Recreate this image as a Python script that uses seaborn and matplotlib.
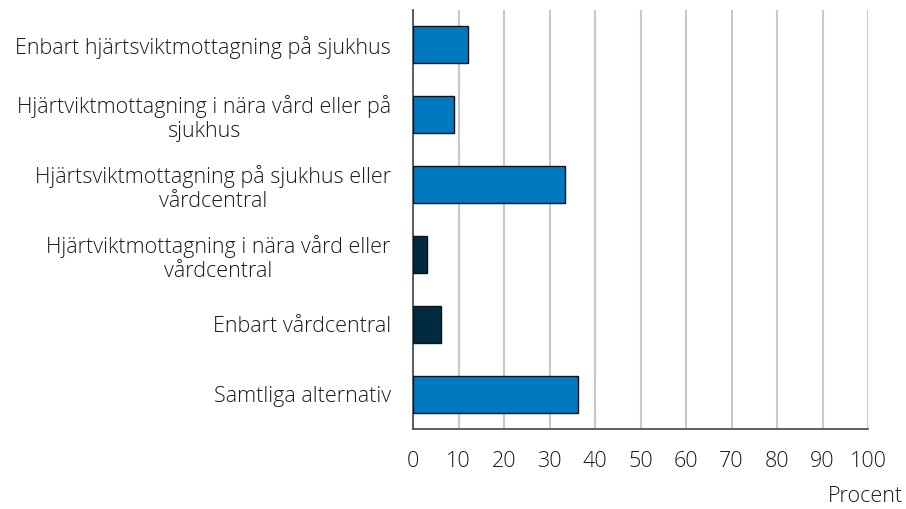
import pandas as pd
import matplotlib
matplotlib.use("Agg")
import matplotlib.pyplot as plt
import seaborn as sns

# Data
kategorier = [
    "Enbart hjärtsviktmottagning på sjukhus",
    "Hjärtviktmottagning i nära vård eller på\nsjukhus",
    "Hjärtsviktmottagning på sjukhus eller\nvårdcentral",
    "Hjärtviktmottagning i nära vård eller\nvårdcentral",
    "Enbart vårdcentral",
    "Samtliga alternativ",
]
procent = [12.1, 9.1, 33.3, 3.1, 6.1, 36.3]
farger = ["#0079C1", "#0079C1", "#0079C1", "#002A42", "#002A42", "#0079C1"]

df = pd.DataFrame({"kategori": kategorier, "procent": procent})

sns.set_style("white")
plt.rcParams["font.family"] = ["Open Sans", "DejaVu Sans"]
plt.rcParams["font.weight"] = "light"

fig = plt.figure(figsize=(9.06, 5.09), dpi=100)
ax = fig.add_axes([413 / 906, 1 - 429 / 509, 455 / 906, 419 / 509])

sns.barplot(data=df, x="procent", y="kategori", hue="kategori",
            palette=dict(zip(kategorier, farger)), legend=False, saturation=1,
            width=0.53, edgecolor="#111111", linewidth=1.0, ax=ax, zorder=3)

ax.set_xlim(0, 100)
ax.set_ylim(5.5, -0.5)
ax.set_xticks(range(0, 101, 10))
ax.xaxis.grid(True, color="#C8C8C8", linewidth=1.5, zorder=0)
ax.set_axisbelow(True)

# y ticks at the category boundaries, labels centered in each band
ax.set_yticks([i + 0.5 for i in range(-1, 6)], minor=False)
ax.set_yticklabels([])
ax.set_yticks(range(6), minor=True)
ax.set_yticklabels(kategorier, minor=True, fontsize=15.5, color="#1a1a1a")
for lbl in ax.get_yticklabels(minor=True):
    lbl.set_multialignment("center")
ax.tick_params(axis="y", which="minor", length=0, pad=16)
ax.tick_params(axis="y", which="major", length=5.5, width=1.2,
               color="#444444", direction="out")
ax.tick_params(axis="x", direction="in", length=5.5, width=1.2,
               color="#444444", labelsize=15.5, labelcolor="#1a1a1a", pad=16)

for side in ["top", "right"]:
    ax.spines[side].set_visible(False)
for side in ["left", "bottom"]:
    ax.spines[side].set_color("#444444")
    ax.spines[side].set_linewidth(1.2)

ax.set_xlabel("")
ax.set_ylabel("")
fig.text(903 / 906, 1 - 497 / 509, "Procent", ha="right", va="center",
         fontsize=15.5, color="#1a1a1a")

fig.savefig("out.png", dpi=100)
